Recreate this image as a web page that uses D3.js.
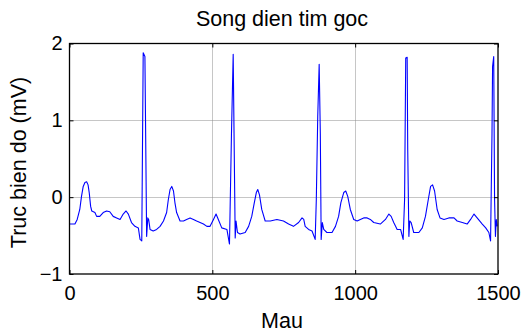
<!DOCTYPE html>
<html>
<head>
<meta charset="utf-8">
<script src="https://cdn.jsdelivr.net/npm/d3@7"></script>
<style>
  html, body { margin: 0; padding: 0; background: #fff; }
  svg { display: block; font-family: "Liberation Sans", Arial, sans-serif; }
</style>
</head>
<body>
<svg id="chart" width="524" height="334"></svg>
<script>
// ---- data ----
const titleText = "Song dien tim goc";
const xLabelText = "Mau";
const yLabelText = "Truc bien do (mV)";
const xTicks = [0, 500, 1000, 1500];
const yTicks = [-1, 0, 1, 2];
const xDomain = [0, 1500];
const yDomain = [-1, 2];

// sample index of each breakpoint of the trace
const samples = [
  0, 19, 27, 36, 42, 48, 54, 60, 65, 69, 74, 78, 89, 95, 106, 118, 130, 141, 153, 165,
  177, 188, 198, 206, 217, 229, 241, 247, 253, 258, 264, 270, 274, 277, 282, 293, 305, 317, 329, 340,
  346, 352, 358, 364, 369, 375, 387, 399, 410, 422, 434, 445, 457, 469, 481, 492, 504, 513, 521, 533,
  551, 560, 567, 573, 576, 580, 583, 588, 597, 615, 627, 638, 647, 654, 659, 665, 673, 685, 703, 726,
  749, 767, 784, 802, 814, 820, 825, 837, 849, 860, 864, 869, 874, 878, 881, 885, 890, 901, 919, 931,
  942, 950, 960, 967, 974, 983, 995, 1007, 1018, 1030, 1042, 1053, 1065, 1088, 1106, 1118, 1126, 1135, 1147, 1159,
  1168, 1173, 1177, 1182, 1184, 1188, 1191, 1196, 1205, 1223, 1235, 1246, 1256, 1264, 1271, 1278, 1287, 1297, 1311, 1328,
  1346, 1357, 1375, 1392, 1404, 1416, 1427, 1445, 1457, 1468, 1474, 1479, 1481, 1485, 1488, 1491, 1494, 1497
];
// amplitude (mV) at each breakpoint
const values = [
  -0.35, -0.35, -0.29, -0.16, 0.01, 0.14, 0.19, 0.20, 0.16, 0.06, -0.12, -0.18, -0.20, -0.25, -0.25, -0.20, -0.18, -0.19, -0.25, -0.27,
  -0.29, -0.22, -0.18, -0.22, -0.33, -0.38, -0.40, -0.55, -0.57, 1.88, 1.83, -0.51, -0.27, -0.29, -0.42, -0.44, -0.42, -0.38, -0.31, -0.20,
  -0.03, 0.10, 0.14, 0.08, -0.07, -0.20, -0.31, -0.31, -0.29, -0.27, -0.29, -0.31, -0.33, -0.35, -0.38, -0.38, -0.29, -0.22, -0.29, -0.40,
  -0.42, -0.61, 0.83, 1.86, 0.83, -0.53, -0.31, -0.46, -0.48, -0.46, -0.38, -0.25, -0.07, 0.06, 0.10, 0.03, -0.16, -0.31, -0.31, -0.29,
  -0.31, -0.35, -0.38, -0.33, -0.27, -0.29, -0.38, -0.42, -0.44, -0.55, -0.03, 1.05, 1.73, 0.83, -0.55, -0.33, -0.42, -0.46, -0.46, -0.38,
  -0.25, -0.07, 0.06, 0.08, 0.01, -0.16, -0.29, -0.31, -0.29, -0.27, -0.27, -0.29, -0.33, -0.35, -0.29, -0.22, -0.25, -0.33, -0.42, -0.42,
  -0.55, -0.03, 1.81, 1.82, 0.62, -0.51, -0.31, -0.33, -0.46, -0.46, -0.40, -0.25, -0.03, 0.14, 0.16, 0.08, -0.16, -0.27, -0.29, -0.27,
  -0.27, -0.31, -0.33, -0.35, -0.29, -0.22, -0.27, -0.35, -0.40, -0.46, -0.57, 0.83, 1.70, 1.83, -0.03, -0.51, -0.29, -0.38
];

// ---- layout ----
const svg = d3.select("#chart");
const mLeft = 69.5, mRight = 498, mTop = 43.5, mBottom = 274;

const x = d3.scaleLinear().domain(xDomain).range([mLeft, mRight]);
const y = d3.scaleLinear().domain(yDomain).range([mBottom, mTop]);

svg.append("rect").attr("width", 524).attr("height", 334).attr("fill", "#fff");

// grid
const grid = svg.append("g").attr("stroke", "#8c8c8c").attr("stroke-width", 1).attr("stroke-dasharray", "1,1");
grid.selectAll("line.gx").data(xTicks.slice(1, -1)).join("line")
  .attr("x1", d => Math.round(x(d)) + 0.5).attr("x2", d => Math.round(x(d)) + 0.5)
  .attr("y1", mTop).attr("y2", mBottom);
grid.selectAll("line.gy").data(yTicks.slice(1, -1)).join("line")
  .attr("y1", d => Math.round(y(d)) + 0.5).attr("y2", d => Math.round(y(d)) + 0.5)
  .attr("x1", mLeft).attr("x2", mRight);

// trace
const pts = samples.map((s, i) => [s, values[i]]);
const line = d3.line().x(d => x(d[0])).y(d => y(d[1]));
svg.append("path").datum(pts)
  .attr("d", line)
  .attr("fill", "none")
  .attr("stroke", "#0000ff")
  .attr("stroke-width", 1.1)
  .attr("stroke-linejoin", "round");

// axes
const tickLen = -4;
const gB = svg.append("g").attr("transform", `translate(0,${mBottom})`)
  .call(d3.axisBottom(x).tickValues(xTicks).tickFormat(d3.format("d")).tickSize(tickLen).tickSizeOuter(0).tickPadding(12));
const gL = svg.append("g").attr("transform", `translate(${mLeft},0)`)
  .call(d3.axisLeft(y).tickValues(yTicks).tickFormat(d3.format("d")).tickSize(tickLen).tickSizeOuter(0).tickPadding(7));
const gT = svg.append("g").attr("transform", `translate(0,${mTop})`)
  .call(d3.axisTop(x).tickValues(xTicks).tickFormat("").tickSize(tickLen).tickSizeOuter(0));
const gR = svg.append("g").attr("transform", `translate(${mRight},0)`)
  .call(d3.axisRight(y).tickValues(yTicks).tickFormat("").tickSize(tickLen).tickSizeOuter(0));

[gB, gL, gT, gR].forEach(g => {
  g.select(".domain").remove();
  g.selectAll("line").attr("stroke", "#000");
  g.selectAll("text").attr("fill", "#000").style("font-size", "20px")
    .style("font-family", '"Liberation Sans", Arial, sans-serif');
});

// box
svg.append("rect")
  .attr("x", mLeft).attr("y", mTop)
  .attr("width", mRight - mLeft).attr("height", mBottom - mTop)
  .attr("fill", "none").attr("stroke", "#000").attr("stroke-width", 1.3);

// labels
svg.append("text").attr("x", 282).attr("y", 26)
  .attr("text-anchor", "middle").style("font-size", "21.5px").text(titleText);
svg.append("text").attr("x", 282).attr("y", 328)
  .attr("text-anchor", "middle").style("font-size", "21.5px").text(xLabelText);
svg.append("text").attr("transform", "translate(25.5,162.5) rotate(-90)")
  .attr("text-anchor", "middle").style("font-size", "21.5px").text(yLabelText);
</script>
</body>
</html>
